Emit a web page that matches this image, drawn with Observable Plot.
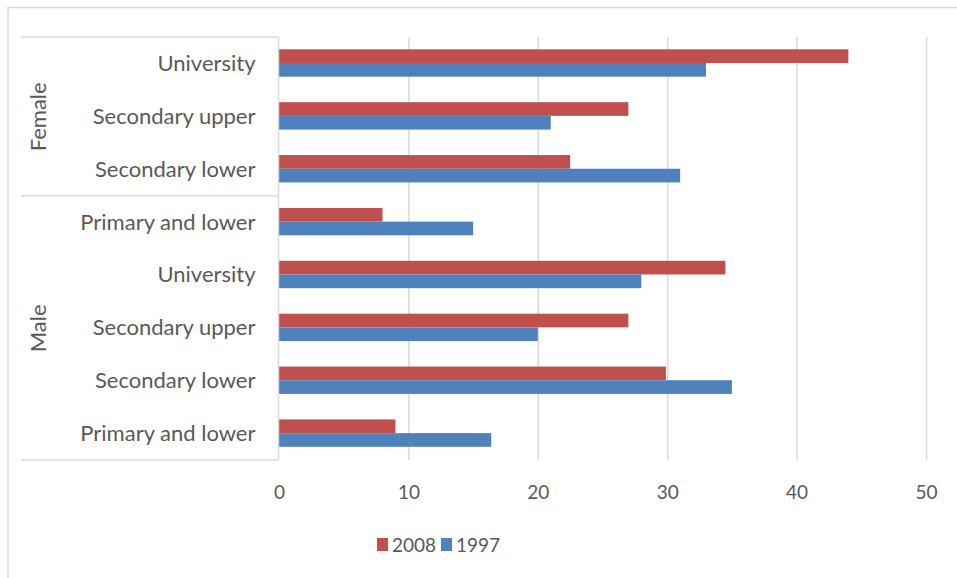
<!DOCTYPE html>
<html>
<head>
<meta charset="utf-8">
<script src="https://cdn.jsdelivr.net/npm/d3@7"></script>
<script src="https://cdn.jsdelivr.net/npm/@observablehq/plot@0.6"></script>
<style>
  html, body { margin: 0; padding: 0; background: #fff; }
  #chart { width: 957px; height: 578px; overflow: hidden; }
</style>
</head>
<body>
<div id="chart"></div>
<script>
// Education level rows, top to bottom, with their sex group
const levels = ["University", "Secondary upper", "Secondary lower", "Primary and lower",
                "University", "Secondary upper", "Secondary lower", "Primary and lower"];
const groups = ["Female", "Female", "Female", "Female", "Male", "Male", "Male", "Male"];
const series = ["2008", "1997"];
const values2008 = [44, 27, 22.5, 8, 34.5, 27, 29.9, 9];
const values1997 = [33, 21, 31, 15, 28, 20, 35, 16.4];
const xTicks = [0, 10, 20, 30, 40, 50];
const colors = ["#C0504D", "#4F81BD"];

// Group label placement (row index the label is centred on) and group boundaries
const groupLabels = [{name: "Female", row: 1}, {name: "Male", row: 5}];
const groupBreaks = [0, 3, 8];

const keys = levels.map((d, i) => `${i}`);
const data = [];
keys.forEach((k, i) => {
  data.push({key: k, series: "2008", value: values2008[i]});
  data.push({key: k, series: "1997", value: values1997[i]});
});

const font = "Lato, 'Open Sans', sans-serif";
const fs = 22;      // category and group labels
const fsSmall = 19; // value ticks and legend
const textColor = "#595959";
const gridColor = "#d9d9d9";

const plot = Plot.plot({
  width: 957,
  height: 578,
  marginLeft: 279,
  marginRight: 31,
  marginTop: 37,
  marginBottom: 118,
  style: {fontFamily: font, fontSize: `${fs}px`, color: textColor, background: "#fff"},
  x: {domain: [0, 50], ticks: xTicks, label: null},
  y: {domain: keys, padding: 0, round: false, label: null},
  color: {domain: series, range: colors},
  marks: [
    Plot.gridX(xTicks.filter(t => t > 0), {stroke: gridColor, strokeOpacity: 1, strokeWidth: 1.5}),
    Plot.barX(data.filter(d => d.series === "2008"), {
      x: "value", y: "key", fill: "series", insetTop: 12.3, insetBottom: 26.9
    }),
    Plot.barX(data.filter(d => d.series === "1997"), {
      x: "value", y: "key", fill: "series", insetTop: 26, insetBottom: 13.2
    }),
    Plot.ruleX([0], {stroke: gridColor, strokeWidth: 1.5, dx: -1}),
    Plot.axisX({ticks: xTicks, tickSize: 0, tickPadding: 25, fontSize: fsSmall, fill: textColor, label: null}),
    Plot.axisY({tickSize: 0, tickPadding: 24, fontSize: fs, fill: textColor, label: null,
      tickFormat: k => levels[+k]}),
    Plot.text(groupLabels, {
      y: d => keys[d.row], text: "name", frameAnchor: "left", dx: -241,
      textAnchor: "middle", rotate: -90, fontSize: fs, fill: textColor
    })
  ]
});

document.getElementById("chart").appendChild(plot);

// Category box lines, outer border and legend drawn into the same SVG
const svg = d3.select(plot);
const y = plot.scale("y");
const bw = y.bandwidth;
const boxLeft = 21, boxRight = 278;
const lines = svg.append("g").attr("stroke", gridColor).attr("stroke-width", 1.5);
groupBreaks.forEach(i => {
  const yy = i < keys.length ? y.apply(keys[i]) : y.apply(keys[keys.length - 1]) + bw;
  lines.append("line").attr("x1", boxLeft).attr("x2", boxRight).attr("y1", yy).attr("y2", yy);
});

const border = svg.append("g").attr("stroke", gridColor).attr("stroke-width", 1.5);
border.append("line").attr("x1", 8).attr("x2", 957).attr("y1", 7.5).attr("y2", 7.5);
border.append("line").attr("x1", 8).attr("x2", 8).attr("y1", 7).attr("y2", 578);

const legend = svg.append("g").attr("font-family", font).attr("font-size", fsSmall)
  .attr("fill", textColor).attr("text-anchor", "start");
const legendX = [377, 441];
series.forEach((s, i) => {
  legend.append("rect").attr("x", legendX[i]).attr("y", 538).attr("width", 11).attr("height", 13)
    .attr("fill", plot.scale("color").apply(s));
  legend.append("text").attr("x", legendX[i] + 15).attr("y", 545).attr("dy", "0.36em").text(s);
});
</script>
</body>
</html>
